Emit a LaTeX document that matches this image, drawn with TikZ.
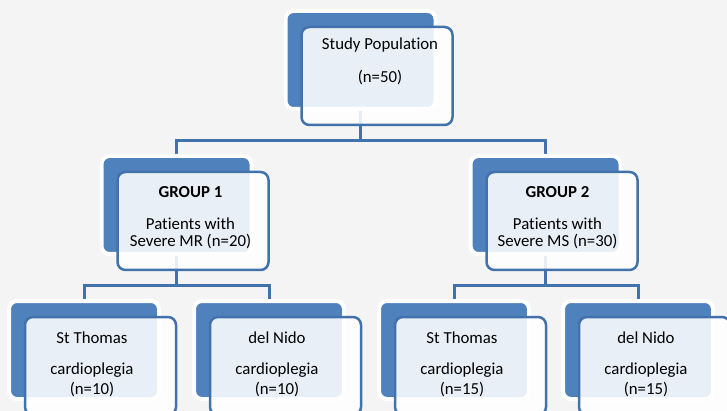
\documentclass[tikz,border=0pt]{standalone}
\usepackage{fontspec}
\setmainfont{Carlito}[Ligatures=NoCommon]
\usetikzlibrary{calc,positioning}

\pgfdeclarelayer{back}
\pgfsetlayers{back,main}

\definecolor{boxblue}{RGB}{79,129,189}
\definecolor{lineblue}{RGB}{66,114,172}
\definecolor{pagegray}{RGB}{244,244,244}

\tikzset{
  backbox/.style={rectangle, rounded corners=8pt, fill=boxblue, draw=white,
    line width=4pt, minimum width=150pt, minimum height=98pt,
    inner sep=0pt, outer sep=0pt},
  frontbox/.style={rectangle, rounded corners=8pt, fill=white, fill opacity=0.88,
    draw=lineblue, line width=2.5pt, minimum width=151pt, minimum height=98pt,
    inner sep=0pt, outer sep=0pt, anchor=north west},
  boxtext/.style={anchor=north, align=center, inner sep=0pt,
    font=\fontsize{16.8}{20}\selectfont, execute at begin node=\strut},
  link/.style={draw=lineblue, line width=3pt},
}

\begin{document}
\begin{tikzpicture}[x=1pt,y=-1pt]
  \clip (0,0) rectangle (727,411);
  \begin{pgfonlayer}{back}
    \fill[pagegray] (0,0) rectangle (727,411);
  \end{pgfonlayer}

  % top
  \node[backbox] (pop) at (360.5,60) {};
  \node[frontbox] (popf) at ([shift={(16,16)}]pop.north west) {};
  \node[boxtext] (popt) at ([shift={(19.5,27)}]pop.north) {Study Population\\[13pt](n=50)};

  % groups
  \node[backbox] (grp1) at (176.5,205) {};
  \node[frontbox] (grp1f) at ([shift={(16,16)}]grp1.north west) {};
  \node[boxtext] (grp1t) at ([shift={(14,30)}]grp1.north) {\textbf{GROUP 1}\\[12pt]Patients with\\[-3pt]Severe MR (n=20)};

  \node[backbox] (grp2) at (545.5,205) {};
  \node[frontbox] (grp2f) at ([shift={(16,16)}]grp2.north west) {};
  \node[boxtext] (grp2t) at ([shift={(12,30)}]grp2.north) {\textbf{GROUP 2}\\[12pt]Patients with\\[-3pt]Severe MS (n=30)};

  % cardioplegia arms
  \node[backbox] (stm1) at (84,350) {};
  \node[frontbox] (stm1f) at ([shift={(16,16)}]stm1.north west) {};
  \node[boxtext] (stm1t) at ([shift={(8,31)}]stm1.north) {St Thomas\\[11pt]cardioplegia\\(n=10)};

  \node[backbox] (nido1) at (269,350) {};
  \node[frontbox] (nido1f) at ([shift={(16,16)}]nido1.north west) {};
  \node[boxtext] (nido1t) at ([shift={(8,31)}]nido1.north) {del Nido\\[11pt]cardioplegia\\(n=10)};

  \node[backbox] (stm2) at (454,350) {};
  \node[frontbox] (stm2f) at ([shift={(16,16)}]stm2.north west) {};
  \node[boxtext] (stm2t) at ([shift={(8,31)}]stm2.north) {St Thomas\\[11pt]cardioplegia\\(n=15)};

  \node[backbox] (nido2) at (638,350) {};
  \node[frontbox] (nido2f) at ([shift={(16,16)}]nido2.north west) {};
  \node[boxtext] (nido2t) at ([shift={(8,31)}]nido2.north) {del Nido\\[11pt]cardioplegia\\(n=15)};

  % connectors
  \begin{pgfonlayer}{back}
    \coordinate (bus0) at ($(popf.south)!.5!(grp1.north)$);
    \coordinate (bus1) at ($(grp1f.south)!.5!(stm1.north)$);
    \coordinate (bus2) at ($(grp2f.south)!.5!(stm2.north)$);
    \foreach \g in {grp1,grp2}
      \draw[link] (pop.center) -- (pop.center |- bus0) -| (\g.center);
    \foreach \c in {stm1,nido1}
      \draw[link] (grp1.center) -- (grp1.center |- bus1) -| (\c.center);
    \foreach \c in {stm2,nido2}
      \draw[link] (grp2.center) -- (grp2.center |- bus2) -| (\c.center);
  \end{pgfonlayer}
\end{tikzpicture}
\end{document}
